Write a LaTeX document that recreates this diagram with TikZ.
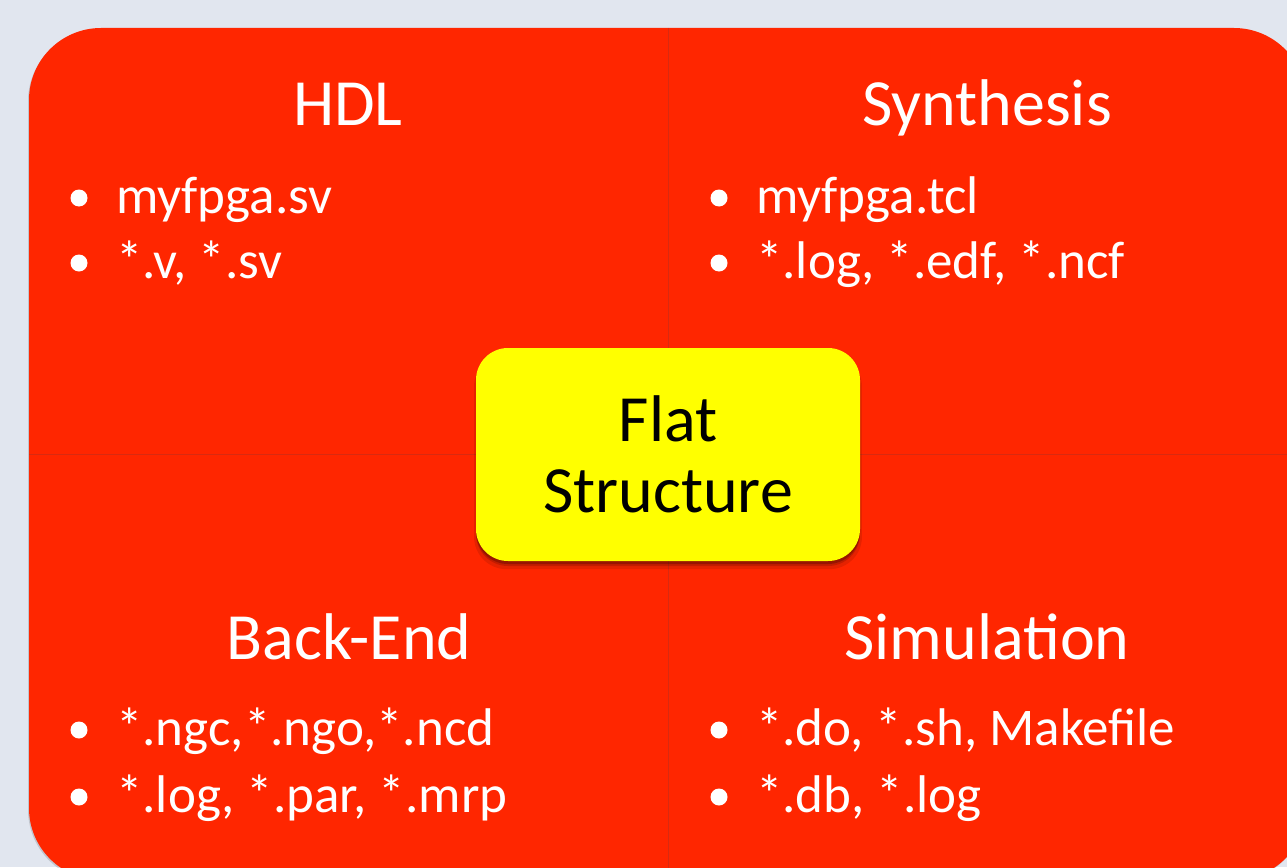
\documentclass[tikz,border=0pt]{standalone}
\usepackage{fontspec}
\setmainfont{Carlito}
\usetikzlibrary{shadows}
\definecolor{pagebg}{HTML}{E1E6EF}
\definecolor{quadred}{HTML}{FF2600}
\definecolor{hubyellow}{HTML}{FFFF00}
\definecolor{seam}{HTML}{D92A10}

\begin{document}
\begin{tikzpicture}[x=1pt,y=-1pt,
  quadfill/.style={fill=quadred, draw=none, rounded corners=72pt,
    general shadow={fill=black, opacity=0.14, shadow xshift=-1pt, shadow yshift=-1.5pt}},
  seamline/.style={draw=seam, line width=1pt},
  heading/.style={text=white, font=\fontsize{66}{70}\selectfont, anchor=base, inner sep=0pt},
  item/.style={text=white, font=\fontsize{53}{60}\selectfont, anchor=base west, inner sep=0pt},
  bulletdot/.style={circle, fill=white, draw=none, inner sep=0pt, minimum size=17pt},
  hub/.style={fill=hubyellow, draw=none, rounded corners=32pt, minimum width=384pt,
    minimum height=213pt, align=center, text=black,
    font=\fontsize{66}{71}\selectfont,
    % soft shadow built from a few stacked translucent layers
    general shadow={fill=black, opacity=0.10, shadow yshift=-7pt, shadow scale=1.01},
    general shadow={fill=black, opacity=0.15, shadow yshift=-5pt},
    general shadow={fill=black, opacity=0.22, shadow yshift=-3pt}}]

% page
\fill[pagebg] (0,0) rectangle (1287,867);
\useasboundingbox (0,0) rectangle (1287,867);
\clip (0,0) rectangle (1287,867);

% the four quadrants form one rounded block, split by seams
\path[quadfill] (29,28) rectangle (1306,880);
\draw[seamline] (668,28) -- (668,880);
\draw[seamline] (29,454) -- (1306,454);

% headings
\node[heading] (hdl) at (348,125) {HDL};
\node[heading] (syn) at (987,125) {Synthesis};
\node[heading] (be)  at (349,659) {Back-End};
\node[heading] (sim) at (987,659) {Simulation};

% bullet lists
\node[item] (hdl1) at (116,213) {myfpga.sv};
\node[item] (hdl2) at (116,278) {*.v, *.sv};
\node[item] (syn1) at (756,213) {myfpga.tcl};
\node[item] (syn2) at (756,278) {*.log, *.edf, *.ncf};
\node[item] (be1)  at (116,745) {*.ngc,*.ngo,*.ncd};
\node[item] (be2)  at (116,812) {*.log, *.par, *.mrp};
\node[item] (sim1) at (756,745) {*.do, *.sh, Makefile};
\node[item] (sim2) at (756,812) {*.db, *.log};

\foreach \n/\x/\y in {hdl1/79/213, hdl2/79/278, syn1/719/213, syn2/719/278,
                      be1/79/745, be2/79/812, sim1/719/745, sim2/719/812}
  \node[bulletdot] (dot-\n) at (\x,\y-15) {};

% centre box
\node[hub] (flat) at (668,454.5) {Flat\\Structure};
\end{tikzpicture}
\end{document}
